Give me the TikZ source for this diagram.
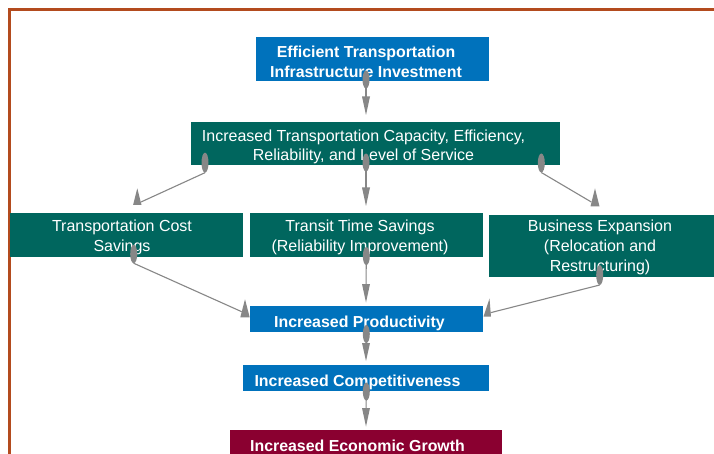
\documentclass[tikz,border=0pt]{standalone}
\usepackage{fontspec}
\setmainfont{Liberation Sans}
\usetikzlibrary{shapes.geometric,calc}
\definecolor{boxblue}{HTML}{0072BC}
\definecolor{boxteal}{HTML}{00665E}
\definecolor{boxred}{HTML}{8A0030}
\definecolor{framecol}{HTML}{B34B1E}
\definecolor{conngray}{HTML}{878787}
\begin{document}
\begin{tikzpicture}[x=1pt,y=-1pt,
  box/.style={rectangle, inner sep=0pt, outer sep=0pt},
  txt/.style={text=white, inner sep=0pt, align=center, anchor=base, font=\fontsize{16}{20}\selectfont},
  btxt/.style={txt, font=\fontsize{15.9}{19.5}\selectfont\bfseries},
  tail/.style={ellipse, fill=conngray, inner sep=0pt, outer sep=0pt, minimum width=7pt, minimum height=18pt},
  conn/.style={draw=conngray, line width=1.1pt},
  headfill/.style={fill=conngray}]
\useasboundingbox (0,0) rectangle (714,454);
\clip (0,0) rectangle (714,454);
\fill[white] (0,0) rectangle (714,454);
% frame
\draw[framecol, line width=2.4pt] (9.5,9.5) rectangle (740,480);
% boxes
\node[box, fill=boxblue, minimum width=233pt, minimum height=44pt] (b1) at (372.5,59) {};
\node[box, fill=boxteal, minimum width=369pt, minimum height=43pt] (b2) at (375.5,143.5) {};
\node[box, fill=boxteal, minimum width=233pt, minimum height=44pt] (b3) at (126.5,235) {};
\node[box, fill=boxteal, minimum width=233pt, minimum height=44pt] (b4) at (366.5,235) {};
\node[box, fill=boxteal, minimum width=240pt, minimum height=62pt] (b5) at (609,246) {};
\node[box, fill=boxblue, minimum width=233pt, minimum height=26pt] (b6) at (366.5,319) {};
\node[box, fill=boxblue, minimum width=246pt, minimum height=26pt] (b7) at (366,378) {};
\node[box, fill=boxred, minimum width=272pt, minimum height=40pt] (b8) at (366,450) {};
% texts (base anchor = baseline of last line)
\node[btxt] (l1) at (366,77.2) {Efficient Transportation\\Infrastructure Investment};
\node[txt, font=\fontsize{16}{19}\selectfont] (l2) at (363.5,160.7) {Increased Transportation Capacity, Efficiency,\\Reliability, and Level of Service};
\node[txt] (l3) at (122,251.7) {Transportation Cost\\Savings};
\node[txt] (l4) at (360,251.7) {Transit Time Savings\\(Reliability Improvement)};
\node[txt] (l5) at (600,271.7) {Business Expansion\\(Relocation and\\Restructuring)};
\node[btxt] (l6) at (359.5,327) {Increased Productivity};
\node[btxt] (l7) at (357.5,386.7) {Increased Competitiveness};
\node[btxt] (l8) at (357.5,451) {Increased Economic Growth};
% connectors: vertical
\node[tail] (t1) at (366,79.5) {};
\coordinate (h1) at (366,115);
\draw[conn] (t1.center) -- ($(h1)+(0,-10)$);
\fill[headfill] (h1) -- ++(-4,-18.5) -- ++(8,0) -- cycle;
\node[tail] (t3) at (366,162.5) {};
\coordinate (h3) at (366,206);
\draw[conn] (t3.center) -- ($(h3)+(0,-10)$);
\fill[headfill] (h3) -- ++(-4,-18.5) -- ++(8,0) -- cycle;
\node[tail] (t6) at (366.3,256) {};
\coordinate (h6) at (366,302.5);
\draw[conn] (t6.center) -- ($(h6)+(0,-10)$);
\fill[headfill] (h6) -- ++(-4,-18.5) -- ++(8,0) -- cycle;
\node[tail] (t8) at (366.3,334) {};
\coordinate (h8) at (366,361);
\draw[conn] (t8.center) -- ($(h8)+(0,-10)$);
\fill[headfill] (h8) -- ++(-4,-18) -- ++(8,0) -- cycle;
\node[tail] (t9) at (366.3,391.5) {};
\coordinate (h9) at (366,426.5);
\draw[conn] (t9.center) -- ($(h9)+(0,-10)$);
\fill[headfill] (h9) -- ++(-4,-18.5) -- ++(8,0) -- cycle;
% connectors: diagonal
\node[tail, minimum height=20pt] (t2) at (205,162.7) {};
\coordinate (h2) at (137.3,188.3);
\coordinate (e2) at (141,202);
\draw[conn] (t2.south) -- (e2);
\fill[headfill] (h2) -- ++(-4.2,16.7) -- ++(8.4,0) -- cycle;
\node[tail, minimum height=19pt] (t4) at (541.3,163) {};
\coordinate (h4) at (595,188.3);
\coordinate (e4) at (591.3,202);
\draw[conn] (t4.south) -- (e4);
\fill[headfill] (h4) -- ++(-4.5,18) -- ++(9,0) -- cycle;
\node[tail, minimum height=18.5pt] (t5) at (133.7,254) {};
\coordinate (h5) at (245,299.3);
\coordinate (e5) at (241.7,311.7);
\draw[conn] (t5.south) -- (e5);
\fill[headfill] (h5) -- ++(-4.7,18) -- ++(9.4,0) -- cycle;
\node[tail, minimum height=20pt] (t7) at (599.7,275) {};
\coordinate (h7) at (489.5,298.5);
\coordinate (e7) at (490.5,312.7);
\draw[conn] (t7.south) -- (e7);
\fill[headfill] (h7) -- ++(-6,18.2) -- ++(7.5,0) -- cycle;
\end{tikzpicture}
\end{document}
